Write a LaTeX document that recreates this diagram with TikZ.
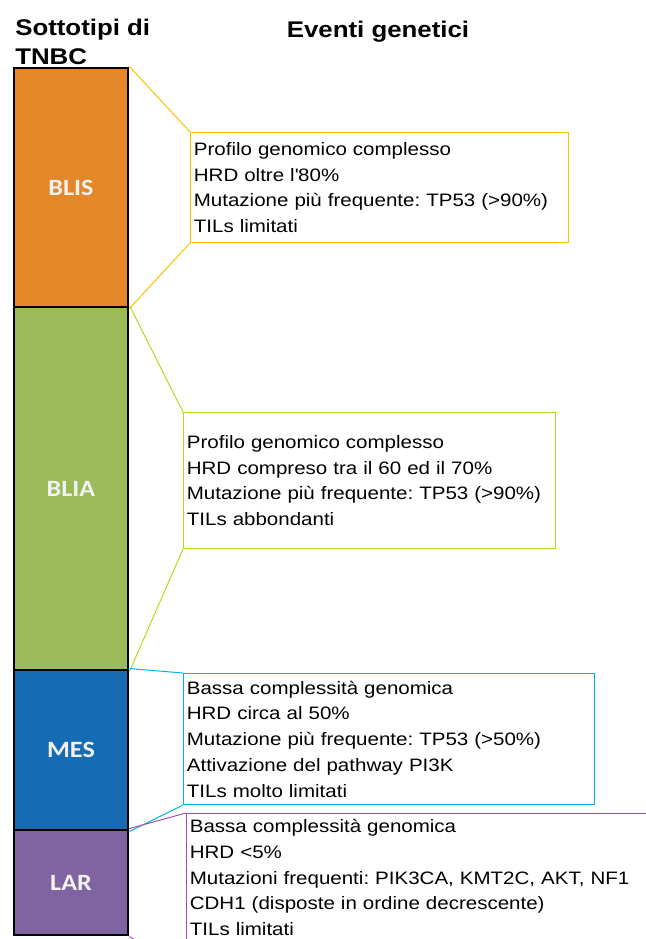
\documentclass[tikz,border=0pt]{standalone}
\usepackage{fontspec}
\setmainfont{Liberation Sans}[FakeStretch=1.14]
\newfontfamily\labelfont{Carlito}[FakeStretch=1.12]
\usepackage{tikz}
\usetikzlibrary{positioning, calc}
\frenchspacing

\definecolor{blisorange}{RGB}{227, 135, 40}
\definecolor{bliagreen}{RGB}{155, 187, 89}
\definecolor{mesblue}{RGB}{22, 107, 178}
\definecolor{larpurple}{RGB}{128, 100, 162}
\definecolor{blisline}{RGB}{255, 192, 0}
\definecolor{blialine}{RGB}{170, 222, 30}
\definecolor{mesline}{RGB}{0, 176, 240}
\definecolor{larline}{RGB}{160, 80, 170}

\tikzset{
  seg/.style={draw=black, line width=2.2pt, minimum width=85.5pt, inner sep=0pt,
    font=\labelfont\fontsize{17.5}{20}\selectfont\bfseries, text=white!95!black},
  infobox/.style={draw, line width=0.8pt, anchor=north west, align=left,
    inner xsep=2.5pt, inner ysep=0pt, font=\fontsize{13.5}{19.3}\selectfont},
  link/.style={line width=0.75pt}
}

\begin{document}
\begin{tikzpicture}[x=0.75pt, y=-0.75pt]
  \clip (0,0) rectangle (646,939);

  % Titles
  \node[anchor=north west, align=left, inner sep=0pt, font=\fontsize{17}{21.5}\selectfont\bfseries] (ttype) at (15,19) {Sottotipi di\\TNBC};
  \node[inner sep=0pt, font=\fontsize{17}{21.5}\selectfont\bfseries] (tevent) at (378,32) {Eventi genetici};

  % Subtype column
  \node[seg, fill=blisorange, minimum height=179.25pt] (blis) at (71,187.5) {BLIS};
  \node[seg, fill=bliagreen, minimum height=272.25pt] (blia) at (71,488.5) {BLIA};
  \node[seg, fill=mesblue, minimum height=120pt] (mes) at (71,750) {MES};
  \node[seg, fill=larpurple, minimum height=78.75pt] (lar) at (71,882.5) {LAR};

  % Genetic events
  \node[infobox, draw=blisline, text width=278.5pt, minimum height=82.5pt] (blisbox) at (190,132) {
    Profilo genomico complesso\\
    HRD oltre l\textquotesingle80\%\\
    Mutazione più frequente: TP53 (>90\%)\\
    TILs limitati
  };
  \node[infobox, draw=blialine, text width=274pt, minimum height=102pt] (bliabox) at (183,412) {
    Profilo genomico complesso\\
    HRD compreso tra il 60 ed il 70\%\\
    Mutazione più frequente: TP53 (>90\%)\\
    TILs abbondanti
  };
  \node[infobox, draw=mesline, text width=303.25pt, minimum height=98.25pt] (mesbox) at (183,673) {
    Bassa complessità genomica\\
    HRD circa al 50\%\\
    Mutazione più frequente: TP53 (>50\%)\\
    Attivazione del pathway PI3K\\
    TILs molto limitati
  };
  \node[infobox, draw=larline, text width=380.5pt, minimum height=96pt] (larbox) at (186,813) {
    Bassa complessità genomica\\
    HRD <5\%\\
    Mutazioni frequenti: PIK3CA, KMT2C, AKT, NF1\\
    CDH1 (disposte in ordine decrescente)\\
    TILs limitati
  };

  % Links
  \draw[link, blisline] (blis.north east) -- (blisbox.north west);
  \draw[link, blisline] (blis.south east) -- (blisbox.south west);
  \draw[link, blialine] (blia.north east) -- (bliabox.north west);
  \draw[link, blialine] (blia.south east) -- (bliabox.south west);
  \draw[link, mesline] (mes.north east) -- (mesbox.north west);
  \draw[link, mesline] (mes.south east) -- (mesbox.south west);
  \draw[link, larline] (lar.north east) -- (larbox.north west);
  \draw[link, larline] (lar.south east) -- ($(larbox.south west)+(0,30)$);
\end{tikzpicture}
\end{document}
